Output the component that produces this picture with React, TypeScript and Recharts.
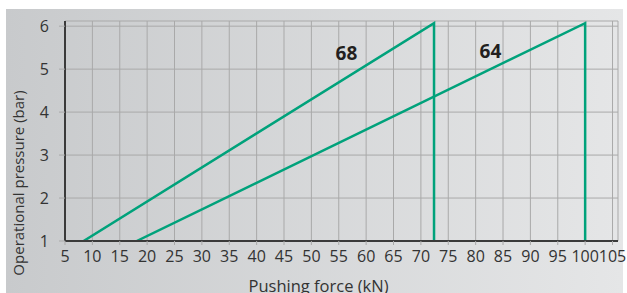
import React from "react";
import { LineChart, Line, XAxis, YAxis, CartesianGrid, ReferenceDot, Label } from "recharts";

const xTicks = [5, 10, 15, 20, 25, 30, 35, 40, 45, 50, 55, 60, 65, 70, 75, 80, 85, 90, 95, 100, 105];
const yTicks = [1, 2, 3, 4, 5, 6];

const series68 = [
  { x: 8.4, y: 1 },
  { x: 72.4, y: 6.07 },
  { x: 72.4, y: 1 },
];
const series64 = [
  { x: 18.1, y: 1 },
  { x: 100, y: 6.07 },
  { x: 100, y: 1 },
];
const seriesLabels = [
  { name: "68", x: 56.4, y: 5.37 },
  { name: "64", x: 82.7, y: 5.42 },
];

const xTitle = "Pushing force (kN)";
const yTitle = "Operational pressure (bar)";

const FONT = "'Open Sans', 'Noto Sans', sans-serif";
const GREEN = "#00a27b";
const TEXT = "#333333";
const TICK_SIZE = 16;

const XTick = (props: any) => {
  const { x, y, payload } = props;
  return (
    <text x={x} y={y + 17} textAnchor="middle" fontSize={TICK_SIZE} fontFamily={FONT} fill={TEXT}>
      {payload.value}
    </text>
  );
};

const YTick = (props: any) => {
  const { x, y, payload } = props;
  return (
    <text x={x} y={y} textAnchor="end" dominantBaseline="central" fontSize={TICK_SIZE} fontFamily={FONT} fill={TEXT}>
      {payload.value}
    </text>
  );
};

const YTitle = (props: any) => {
  const vb = props.viewBox || {};
  const cx = vb.x + 18;
  const cy = vb.y + vb.height / 2 + 52;
  return (
    <text
      x={cx}
      y={cy}
      transform={`rotate(-90, ${cx}, ${cy})`}
      textAnchor="middle"
      dominantBaseline="central"
      fontSize={15}
      fontFamily={FONT}
      fill={TEXT}
    >
      {yTitle}
    </text>
  );
};

export default function App() {
  return (
    <div style={{ position: "absolute", left: 0, top: 0, width: 627, height: 293, background: "#ffffff" }}>
      <div
        style={{
          position: "absolute",
          left: 6,
          top: 9,
          width: 617,
          height: 284,
          background: "linear-gradient(to right, #c8cacc, #e5e6e7)",
        }}
      />
      <div style={{ position: "absolute", left: 0, top: 0 }}>
        <LineChart
          width={627}
          height={293}
          margin={{ top: 21, right: 9, left: 0, bottom: 0 }}
        >
          <CartesianGrid stroke="#a9a9a9" strokeWidth={1} />
          <XAxis
            type="number"
            dataKey="x"
            domain={[5, 106]}
            ticks={xTicks}
            interval={0}
            allowDataOverflow
            height={52}
            tickSize={4}
            tickMargin={0}
            tickLine={{ stroke: "#a9a9a9" }}
            axisLine={{ stroke: "#3a3a3a", strokeWidth: 2 }}
            tick={<XTick />}
          >
            <Label value={xTitle} position="insideBottom" offset={1} dx={-23} fontSize={16.5} fontFamily={FONT} fill={TEXT} />
          </XAxis>
          <YAxis
            type="number"
            dataKey="y"
            domain={[1, 6.12]}
            ticks={yTicks}
            interval={0}
            allowDataOverflow
            width={65}
            tickSize={6}
            tickMargin={10}
            tickLine={{ stroke: "#a9a9a9" }}
            axisLine={{ stroke: "#3a3a3a", strokeWidth: 2 }}
            tick={<YTick />}
          >
            <Label content={<YTitle />} />
          </YAxis>
          <Line
            data={series68}
            dataKey="y"
            type="linear"
            stroke={GREEN}
            strokeWidth={2.5}
            dot={false}
            isAnimationActive={false}
          />
          <Line
            data={series64}
            dataKey="y"
            type="linear"
            stroke={GREEN}
            strokeWidth={2.5}
            dot={false}
            isAnimationActive={false}
          />
          {seriesLabels.map((s) => (
            <ReferenceDot
              key={s.name}
              x={s.x}
              y={s.y}
              r={0}
              fill="none"
              stroke="none"
              label={{
                value: s.name,
                position: "center",
                fontSize: 19,
                fontWeight: 700,
                fontFamily: FONT,
                fill: "#231f20",
              }}
            />
          ))}
        </LineChart>
      </div>
    </div>
  );
}
